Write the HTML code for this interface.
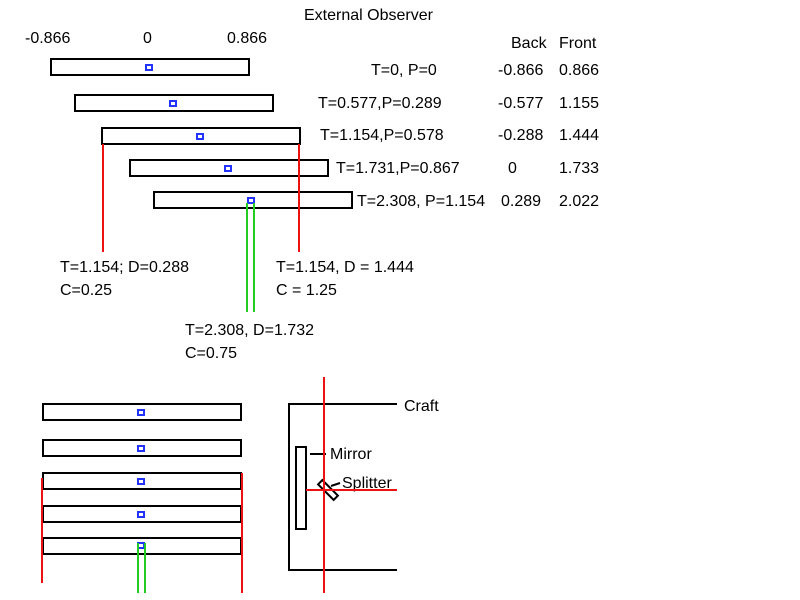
<!DOCTYPE html>
<html><head><meta charset="utf-8"><style>
body{margin:0;background:#fff;}
svg{display:block;font-family:"Liberation Sans",sans-serif;font-size:16px;}
</style></head><body>
<svg width="800" height="600">
<g fill="#000">
<text x="304" y="20">External Observer</text>
<text x="25" y="43">-0.866</text>
<text x="143" y="43">0</text>
<text x="227" y="43">0.866</text>
<text x="511" y="48">Back</text>
<text x="559" y="48">Front</text>
<text x="371" y="75">T=0, P=0</text>
<text x="498" y="75">-0.866</text><text x="559" y="75">0.866</text>
<text x="318" y="108">T=0.577,P=0.289</text>
<text x="498" y="108">-0.577</text><text x="559" y="108">1.155</text>
<text x="320" y="140">T=1.154,P=0.578</text>
<text x="498" y="140">-0.288</text><text x="559" y="140">1.444</text>
<text x="336" y="173">T=1.731,P=0.867</text>
<text x="508" y="173">0</text><text x="559" y="173">1.733</text>
<text x="357" y="206">T=2.308, P=1.154</text>
<text x="501" y="206">0.289</text><text x="559" y="206">2.022</text>
<text x="60" y="272">T=1.154; D=0.288</text><text x="60" y="295">C=0.25</text>
<text x="276" y="272">T=1.154, D = 1.444</text><text x="276" y="295">C = 1.25</text>
<text x="185" y="335">T=2.308, D=1.732</text><text x="185" y="358">C=0.75</text>
<text x="404" y="411">Craft</text>
<text x="330" y="459">Mirror</text>
<text x="342" y="488">Splitter</text>
</g>
<g fill="none" stroke="#000" stroke-width="2">
<rect x="51" y="59" width="198" height="16"/>
<rect x="75" y="95" width="198" height="16"/>
<rect x="102" y="128" width="198" height="16"/>
<rect x="130" y="160" width="198" height="16"/>
<rect x="154" y="192" width="198" height="16"/>
<rect x="43" y="404" width="198" height="16"/>
<rect x="43" y="440" width="198" height="16"/>
<rect x="43" y="473" width="198" height="16"/>
<rect x="43" y="506" width="198" height="16"/>
<rect x="43" y="538" width="198" height="16"/>
<polyline points="397,404 289,404 289,570 397,570"/>
<rect x="296" y="447" width="10" height="82"/>
<line x1="310" y1="454" x2="326" y2="454"/>
<line x1="331" y1="486" x2="340" y2="483"/>
<rect x="317" y="487" width="22" height="6" transform="rotate(45 328 490)"/>
</g>
<g fill="none" stroke="#2233ff" stroke-width="2">
<rect x="146" y="65" width="6" height="5"/>
<rect x="170" y="101" width="6" height="5"/>
<rect x="197" y="134" width="6" height="5"/>
<rect x="225" y="166" width="6" height="5"/>
<rect x="248" y="198" width="6" height="5"/>
<rect x="138" y="410" width="6" height="5"/>
<rect x="138" y="446" width="6" height="5"/>
<rect x="138" y="479" width="6" height="5"/>
<rect x="138" y="512" width="6" height="5"/>
<rect x="138" y="543" width="6" height="5"/>
</g>
<g stroke="#ee1111" stroke-width="2">
<line x1="103" y1="144" x2="103" y2="252"/>
<line x1="299" y1="144" x2="299" y2="252"/>
<line x1="42" y1="478" x2="42" y2="583"/>
<line x1="242" y1="473" x2="242" y2="593"/>
<line x1="324" y1="377" x2="324" y2="593"/>
<line x1="306" y1="490" x2="397" y2="490"/>
</g>
<g stroke="#22cc22" stroke-width="2">
<line x1="247" y1="203" x2="247" y2="312"/>
<line x1="254" y1="203" x2="254" y2="312"/>
<line x1="138" y1="543" x2="138" y2="593"/>
<line x1="145" y1="543" x2="145" y2="593"/>
</g>
</svg>
</body></html>
